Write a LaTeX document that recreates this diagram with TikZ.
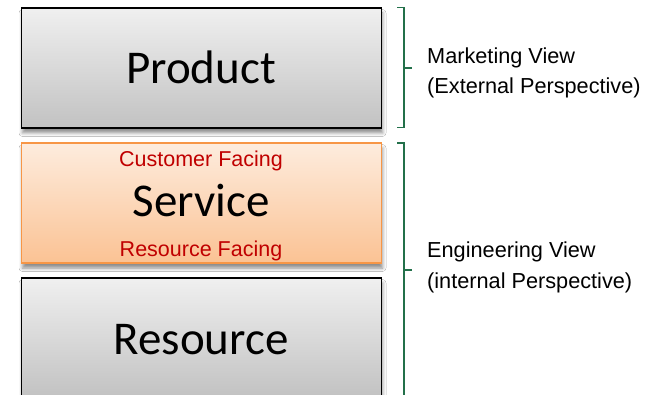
\documentclass[tikz,border=0pt]{standalone}
\usepackage{fontspec}
\setmainfont{Liberation Sans}
\newfontfamily\boxfont{Carlito}
\usetikzlibrary{shadows.blur}
\definecolor{bracegreen}{HTML}{23704A}
\definecolor{svcborder}{HTML}{F79646}
\definecolor{facingred}{HTML}{C00000}
\begin{document}
\begin{tikzpicture}[x=1pt,y=-1pt,
  layerbox/.style={rectangle, minimum width=360pt, minimum height=120pt,
    inner sep=0pt, line width=1.8pt,
    blur shadow={shadow xshift=1pt, shadow yshift=-5pt,
      shadow blur radius=3.5pt, shadow opacity=45}},
  graybox/.style={layerbox, draw=black, top color=gray!12, bottom color=gray!48},
  orangebox/.style={layerbox, draw=svcborder, top color=svcborder!18!white,
    bottom color=svcborder!58!white},
  bigtext/.style={anchor=base, inner sep=0pt,
    font=\boxfont\fontsize{47}{56}\selectfont},
  facing/.style={anchor=base, inner sep=0pt, text=facingred,
    font=\fontsize{21.5}{26}\selectfont},
  viewtext/.style={anchor=base west, inner sep=0pt,
    font=\fontsize{21.7}{26}\selectfont},
  bracket/.style={draw=bracegreen, line width=1.8pt},
]
\clip (0,0) rectangle (650,395);
\fill[white] (0,0) rectangle (650,395);

% the three stacked layers
\node[graybox]   (product)  at (201.5,68)  {};
\node[orangebox] (service)  at (201.5,203) {};
\node[graybox]   (resource) at (201.5,338) {};

\node[bigtext] (producttxt)  at (201,84)  {Product};
\node[bigtext] (servicetxt)  at (201,217) {Service};
\node[bigtext] (resourcetxt) at (201,354) {Resource};

\node[facing] (custfacing) at (201,167) {Customer Facing};
\node[facing] (resfacing)  at (201,256) {Resource Facing};

% bracket for the marketing view
\coordinate (mtop)  at (397,7.5);
\coordinate (mbot)  at (397,127.5);
\coordinate (mtip)  at (412,68);
\draw[bracket] (mtop) -- ++(7,0) |- (mbot);
\draw[bracket] (404,68) -- (mtip);

% bracket for the engineering view
\coordinate (etop) at (397,143);
\coordinate (ebot) at (397,420);
\coordinate (etip) at (412,270);
\draw[bracket] (etop) -- ++(7,0) |- (ebot);
\draw[bracket] (404,270) -- (etip);

\node[viewtext] (marketing)    at (427,64)  {Marketing View};
\node[viewtext] (external)     at (427,94)  {(External Perspective)};
\node[viewtext] (engineering)  at (427,258) {Engineering View};
\node[viewtext] (internal)     at (427,288) {(internal Perspective)};
\end{tikzpicture}
\end{document}
